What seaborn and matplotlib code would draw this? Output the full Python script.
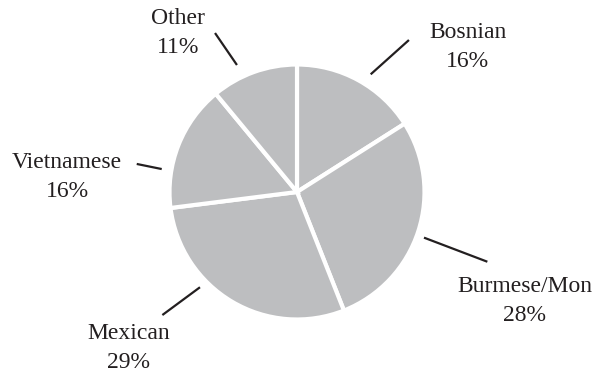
import matplotlib
matplotlib.use("Agg")
import matplotlib.pyplot as plt
import seaborn as sns

# Share of each group
groups = ["Bosnian", "Burmese/Mon", "Mexican", "Vietnamese", "Other"]
shares = [16, 28, 29, 16, 11]

# Label placement (pie radius = 1, centre at 0,0): text centre and leader line ends
label_xy = [(1.341, 1.137), (1.788, -0.855), (-1.318, -1.224), (-1.804, 0.118), (-0.933, 1.247)]
leader_in = [(0.578, 0.923), (0.996, -0.358), (-0.761, -0.747), (-1.061, 0.180), (-0.471, 0.996)]
leader_out = [(0.878, 1.192), (1.493, -0.547), (-1.056, -0.965), (-1.257, 0.220), (-0.643, 1.247)]

sns.set_theme(style="white")
plt.rcParams["font.family"] = ["Liberation Serif", "DejaVu Serif"]

W, H, DPI = 596, 377, 100
fig = plt.figure(figsize=(W / DPI, H / DPI), dpi=DPI)
ax = fig.add_axes([0, 0, 1, 1])

fill = "#bdbec0"
ink = "#231f20"

ax.pie(shares, startangle=90, counterclock=False, radius=1.0,
       colors=[fill] * len(shares),
       wedgeprops=dict(edgecolor="white", linewidth=3.0))

for name, pct, (tx, ty), p0, p1 in zip(groups, shares, label_xy, leader_in, leader_out):
    ax.plot([p0[0], p1[0]], [p0[1], p1[1]], color=ink, lw=1.6, solid_capstyle="butt")
    ax.text(tx, ty, f"{name}\n{pct}%", ha="center", va="center", multialignment="center",
            fontsize=17, color=ink, linespacing=1.55)

# Map the figure so that the pie sits at (297, 192) px with a 127.5 px radius
s = 127.5
cx, cy = 297, 192
ax.set_xlim(-cx / s, (W - cx) / s)
ax.set_ylim(-(H - cy) / s, cy / s)
ax.set_aspect("auto")
ax.axis("off")

fig.savefig("out.png", dpi=DPI, facecolor="white")
